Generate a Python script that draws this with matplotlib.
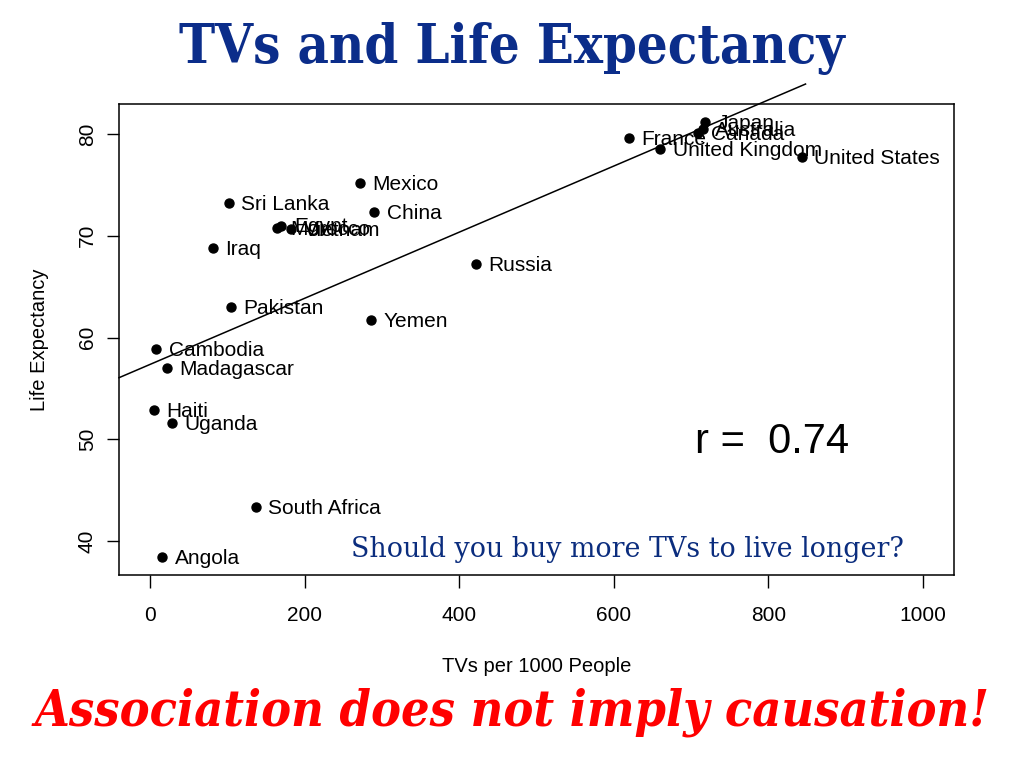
import matplotlib.pyplot as plt
import numpy as np

# countries, TVs per 1000 people, life expectancy
countries = ['Angola', 'Australia', 'Cambodia', 'Canada', 'China', 'Egypt',
             'France', 'Haiti', 'Iraq', 'Japan', 'Madagascar', 'Mexico',
             'Morocco', 'Pakistan', 'Russia', 'South Africa', 'Sri Lanka',
             'Uganda', 'United Kingdom', 'United States', 'Vietnam', 'Yemen']
tvs = [16, 715, 8, 709, 290, 170, 620, 5, 81, 718, 22, 272,
       165, 105, 422, 137, 102, 28, 660, 843, 183, 286]
life = [38.4, 80.5, 58.9, 80.1, 72.3, 71.0, 79.6, 52.9, 68.8, 81.2, 57.0, 75.2,
        70.8, 63.0, 67.2, 43.3, 73.2, 51.6, 78.5, 77.7, 70.7, 61.7]

# least squares line as drawn in the picture
fit_intercept = 57.35
fit_slope = 0.0325
line_x = [-40, 848]

plt.rcParams['font.family'] = ['Liberation Sans', 'DejaVu Sans']

fig = plt.figure(figsize=(10.24, 7.68), dpi=100)
ax = fig.add_axes([0.1162, 0.2513, 0.8154, 0.6133])

ax.scatter(tvs, life, s=42, color='black', zorder=3)
for name, x, y in zip(countries, tvs, life):
    ax.annotate(name, (x, y), xytext=(9, -1), textcoords='offset points',
                ha='left', va='center', fontsize=15)

lx = np.array(line_x)
ax.plot(lx, fit_intercept + fit_slope * lx, color='black', lw=1.1, clip_on=False)

ax.set_xlim(-40, 1040)
ax.set_ylim(36.66, 82.95)
ax.set_xticks([0, 200, 400, 600, 800, 1000])
ax.set_yticks([40, 50, 60, 70, 80])
ax.tick_params(direction='out', length=9, width=1, labelsize=15)
ax.tick_params(axis='x', pad=13)
ax.tick_params(axis='y', pad=7)
for lab in ax.get_yticklabels():
    lab.set_rotation(90)
    lab.set_va('center')
for sp in ax.spines.values():
    sp.set_linewidth(1.1)

ax.set_xlabel('TVs per 1000 People', fontsize=14.5, labelpad=23.5)
ax.set_ylabel('Life Expectancy', fontsize=14.5, labelpad=21)

ax.text(0.875, 0.283, 'r =  0.74', transform=ax.transAxes, fontsize=30,
        ha='right', va='center')
ax.text(0.94, 0.055, 'Should you buy more TVs to live longer?', transform=ax.transAxes,
        fontsize=19.4, ha='right', va='center', color='#0b2d7e', family='DejaVu Serif')

fig.text(0.5, 0.937, 'TVs and Life Expectancy', ha='center', va='center',
         fontsize=39, fontweight='bold', color='#0b2d8a', family='DejaVu Serif',
         fontstretch='condensed')
fig.text(0.5, 0.072, 'Association does not imply causation!', ha='center', va='center',
         fontsize=36, fontweight='bold', style='italic', color='#ff0000',
         family='DejaVu Serif', fontstretch='condensed')

fig.savefig('out.png', dpi=100)
